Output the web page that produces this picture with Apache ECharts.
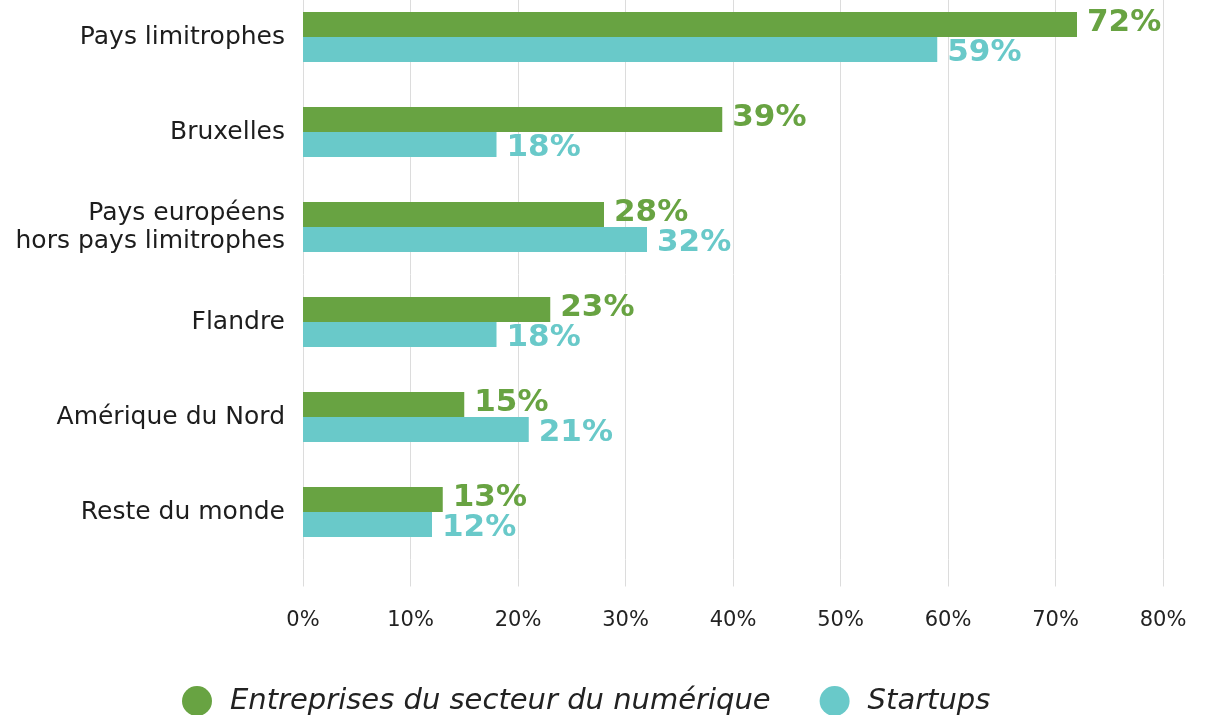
<!DOCTYPE html>
<html>
<head>
<meta charset="utf-8">
<script src="https://cdn.jsdelivr.net/npm/echarts@6/dist/echarts.min.js"></script>
<style>
  html, body { margin: 0; padding: 0; background: #fff; overflow: hidden; }
  /* shifted up so the first band can start above the page edge */
  #chart { position: relative; top: -11px; width: 1220px; height: 726px; }
</style>
</head>
<body>
<div id="chart"></div>
<script>
const categories = [
  'Pays limitrophes',
  'Bruxelles',
  'Pays européens\nhors pays limitrophes',
  'Flandre',
  'Amérique du Nord',
  'Reste du monde'
]
const numerique = [72, 39, 28, 23, 15, 13]
const startups = [59, 18, 32, 18, 21, 12]
const seriesNames = ['Entreprises du secteur du numérique', 'Startups']
const colors = ['#68a342', '#69c9c9']

const font = 'DejaVu Sans'
const chart = echarts.init(document.getElementById('chart'))

function barSeries(name, data, color, dy) {
  return {
    name,
    type: 'bar',
    data,
    barWidth: 25,
    barGap: '0%',
    itemStyle: { color },
    label: {
      show: true,
      position: 'right',
      distance: 10,
      offset: [0, dy],
      formatter: '{c}%',
      color,
      fontFamily: font,
      fontWeight: 'bold',
      fontSize: 31
    }
  }
}

chart.setOption({
  animation: false,
  grid: { left: 303, right: 57, top: 0.5, bottom: 155.5 },
  legend: {
    left: 177,
    top: 692,
    icon: 'circle',
    itemWidth: 30,
    itemHeight: 30,
    itemGap: 49,
    textStyle: {
      fontFamily: font,
      fontStyle: 'italic',
      fontSize: 29,
      color: '#222',
      padding: [0, 0, 0, 13]
    },
    data: seriesNames
  },
  xAxis: {
    type: 'value',
    min: 0,
    max: 80,
    interval: 10,
    axisLine: { show: false },
    axisTick: { show: true, length: 27, lineStyle: { color: '#dcdcdc' } },
    splitLine: { lineStyle: { color: '#dcdcdc' } },
    axisLabel: {
      formatter: '{value}%',
      margin: 51,
      color: '#222',
      fontFamily: font,
      fontSize: 21
    }
  },
  yAxis: {
    type: 'category',
    inverse: true,
    data: categories,
    axisLine: { show: false },
    axisTick: { show: false },
    axisLabel: {
      margin: 18,
      color: '#1d1d1d',
      fontFamily: font,
      fontSize: 25,
      lineHeight: 28,
      align: 'right'
    }
  },
  series: [
    barSeries(seriesNames[0], numerique, colors[0], -2),
    barSeries(seriesNames[1], startups, colors[1], 3)
  ]
})
</script>
</body>
</html>
